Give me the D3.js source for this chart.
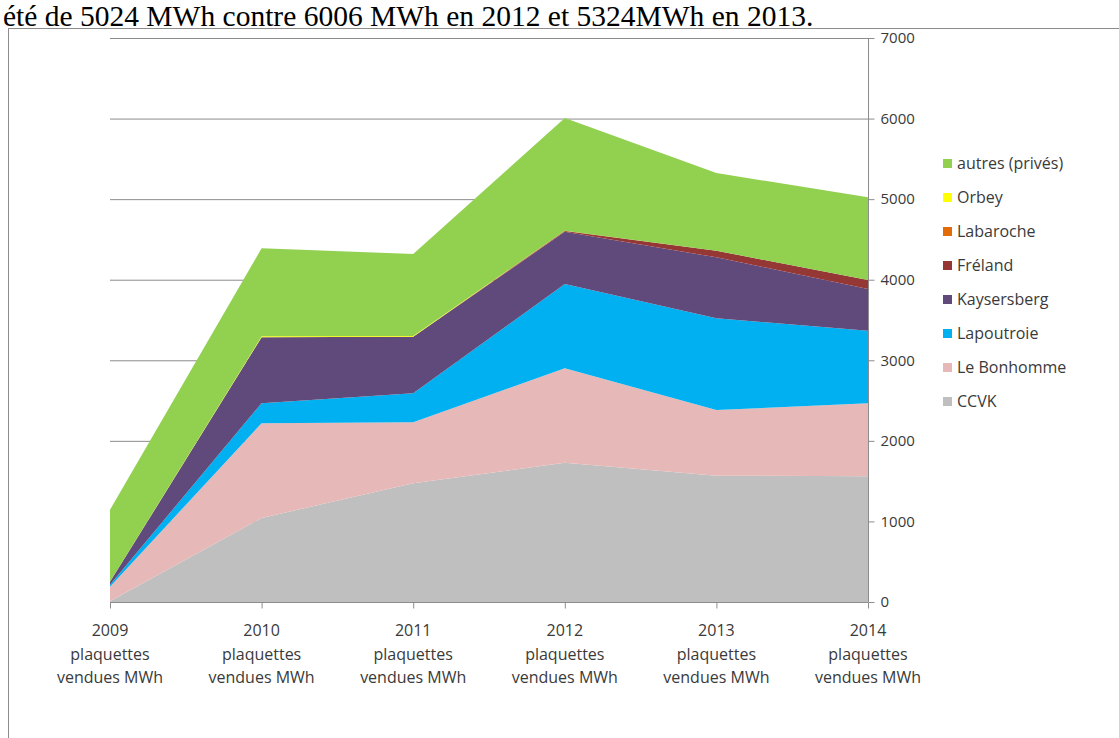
<!DOCTYPE html>
<html>
<head>
<meta charset="utf-8">
<script src="https://cdn.jsdelivr.net/npm/d3@7"></script>
<style>
  html, body { margin: 0; padding: 0; background: #fff; overflow: hidden; }
  svg { display: block; }
</style>
</head>
<body>
<svg id="chart" width="1119" height="738"></svg>
<script>
// ---- data ----
const years = ["2009", "2010", "2011", "2012", "2013", "2014"];
const categoryLine2 = "plaquettes";
const categoryLine3 = "vendues MWh";
const seriesNames = ["CCVK", "Le Bonhomme", "Lapoutroie", "Kaysersberg", "Fréland", "Labaroche", "Orbey", "autres (privés)"];
const CCVK        = [10, 1043, 1473, 1729, 1568, 1560];
const LeBonhomme  = [180, 1177, 757, 1171, 815, 906];
const Lapoutroie  = [25, 248, 360, 1047, 1138, 902];
const Kaysersberg = [35, 817, 703, 647, 757, 517];
const Freland     = [0, 0, 0, 10, 82, 110];
const Labaroche   = [0, 0, 0, 5, 0, 0];
const Orbey       = [0, 12, 8, 0, 0, 0];
const Autres      = [895, 1093, 1019, 1397, 964, 1029];
const yTicks = [0, 1000, 2000, 3000, 4000, 5000, 6000, 7000];
const colors = ["#BFBFBF", "#E6B9B8", "#00B0F0", "#604A7B", "#953735", "#E36C09", "#FFFF00", "#92D050"];
const headerText = "été de 5024 MWh contre 6006 MWh en 2012 et 5324MWh en 2013.";

(function () {
const seriesValues = [CCVK, LeBonhomme, Lapoutroie, Kaysersberg, Freland, Labaroche, Orbey, Autres];
const table = years.map((yr, i) => {
  const row = { year: yr };
  seriesNames.forEach((n, k) => row[n] = seriesValues[k][i]);
  return row;
});

const svg = d3.select("#chart");

// header text from surrounding document
svg.append("text")
  .attr("x", 3).attr("y", 26)
  .attr("font-family", "'Liberation Serif', 'Times New Roman', serif")
  .attr("font-size", 29.5)
  .attr("fill", "#000")
  .text(headerText);

// frame
svg.append("rect")
  .attr("x", 8.5).attr("y", 28.5)
  .attr("width", 1130).attr("height", 740)
  .attr("fill", "none").attr("stroke", "#8c8c8c").attr("stroke-width", 1);

const pL = 110, pR = 868, pT = 38, pB = 602;
const x = d3.scalePoint().domain(years).range([pL, pR]);
const y = d3.scaleLinear().domain([0, 7000]).range([pB, pT]);

// gridlines
svg.append("g").selectAll("line").data(yTicks.filter(t => t > 0)).join("line")
  .attr("x1", pL).attr("x2", pR)
  .attr("y1", d => y(d) + 0.5).attr("y2", d => y(d) + 0.5)
  .attr("stroke", "#8c8c8c").attr("stroke-width", 1);

// stacked areas
const stack = d3.stack().keys(seriesNames);
const layers = stack(table);
const area = d3.area()
  .x(d => x(d.data.year))
  .y0(d => y(d[0]))
  .y1(d => y(d[1]));
svg.append("g").selectAll("path").data(layers).join("path")
  .attr("d", area)
  .attr("fill", (d, i) => colors[i]);

// right axis
const yAxis = d3.axisRight(y).tickValues(yTicks).tickSize(6).tickPadding(6).tickFormat(d3.format("d"));
const gy = svg.append("g").attr("transform", `translate(${pR + 0.5},0)`).call(yAxis);
gy.select(".domain").attr("stroke", "#8c8c8c").attr("d", `M0,${pT}V${pB}`);
gy.selectAll(".tick line").attr("stroke", "#8c8c8c");
gy.selectAll(".tick text")
  .attr("font-family", "'Open Sans', sans-serif").attr("font-size", 15).attr("fill", "#3a3a3a");

// bottom axis
const xAxis = d3.axisBottom(x).tickSize(6).tickFormat("");
const gx = svg.append("g").attr("transform", `translate(0,${pB + 0.5})`).call(xAxis);
gx.select(".domain").attr("stroke", "#8c8c8c").attr("d", `M${pL},0H${pR}`);
gx.selectAll(".tick line").attr("stroke", "#8c8c8c");

const labels = svg.append("g")
  .attr("font-family", "'Open Sans', sans-serif").attr("font-size", 16).attr("fill", "#3a3a3a")
  .attr("text-anchor", "middle");
years.forEach(yr => {
  const t = labels.append("text").attr("x", x(yr)).attr("y", 636);
  t.append("tspan").attr("x", x(yr)).attr("dy", 0).text(yr);
  t.append("tspan").attr("x", x(yr)).attr("dy", 23.5).text(categoryLine2);
  t.append("tspan").attr("x", x(yr)).attr("dy", 23.5).text(categoryLine3);
});

// legend (top-to-bottom reversed order)
const legendOrder = seriesNames.map((n, i) => ({ name: n, color: colors[i] })).reverse();
const lg = svg.append("g").attr("font-family", "'Open Sans', sans-serif").attr("font-size", 16).attr("fill", "#3a3a3a");
legendOrder.forEach((d, i) => {
  const cy = 163 + i * 34;
  lg.append("rect").attr("x", 943).attr("y", cy - 4).attr("width", 9).attr("height", 9).attr("fill", d.color);
  lg.append("text").attr("x", 957).attr("y", cy + 5.5).text(d.name);
});
})();
</script>
</body>
</html>
